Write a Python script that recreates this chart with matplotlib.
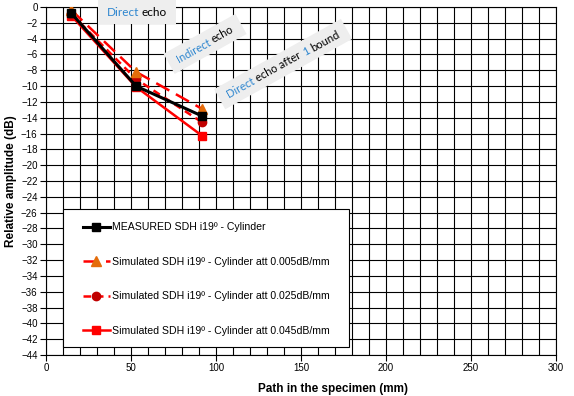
import matplotlib.pyplot as plt
import numpy as np
from matplotlib.patches import Rectangle

# path in the specimen (mm) and relative amplitude (dB)
path_mm = [15, 53, 92]
measured = [-0.8, -10.0, -13.8]
sim_005 = [-0.4, -8.2, -12.9]
sim_025 = [-0.9, -9.1, -14.6]
sim_045 = [-1.1, -10.1, -16.3]

labels = ["MEASURED SDH i19º - Cylinder",
          "Simulated SDH i19º - Cylinder att 0.005dB/mm",
          "Simulated SDH i19º - Cylinder att 0.025dB/mm",
          "Simulated SDH i19º - Cylinder att 0.045dB/mm"]

plt.rcParams['font.family'] = ['Liberation Sans', 'DejaVu Sans']
note_font = ['Lato', 'DejaVu Sans']

fig = plt.figure(figsize=(5.74, 3.96), dpi=100)
ax = fig.add_axes([0.080, 0.1035, 0.8886, 0.8788])

ax.set_xlim(0, 300)
ax.set_ylim(-44, 0)
ax.set_xticks(np.arange(0, 301, 50))
ax.set_yticks(np.arange(-44, 1, 2))
ax.set_xticks(np.arange(0, 301, 10), minor=True)
ax.tick_params(axis='x', which='minor', length=0)
ax.grid(True, which='both', color='black', lw=0.8)
ax.set_axisbelow(True)
ax.tick_params(labelsize=7, length=4, width=0.8, color='black', pad=2)
for s in ax.spines.values():
    s.set_color('black')
    s.set_linewidth(0.8)

ax.set_xlabel("Path in the specimen (mm)", fontsize=8.5, fontweight='bold')
ax.xaxis.set_label_coords(0.563, -0.080)
ax.set_ylabel("Relative amplitude (dB)", fontsize=8.5, fontweight='bold')
ax.yaxis.set_label_coords(-0.057, 0.5)

ax.plot(path_mm, sim_045, color='#ff0000', lw=1.8, marker='s', ms=6,
        mfc='#ff0000', mec='#ff0000', label=labels[3], zorder=3)
ax.plot(path_mm, sim_025, color='#ff0000', lw=1.8, ls=(0, (3, 2)), marker='o', ms=6,
        mfc='#c00000', mec='#c00000', label=labels[2], zorder=4)
ax.plot(path_mm, sim_005, color='#ff0000', lw=1.8, ls=(0, (6, 3)), marker='^', ms=6.5,
        mfc='#e46c0a', mec='#e46c0a', label=labels[1], zorder=4)
ax.plot(path_mm, measured, color='black', lw=2.2, marker='s', ms=5.5,
        label=labels[0], zorder=5)

# legend frame drawn by hand, entries placed inside it
ax.add_patch(Rectangle((0.033, 0.023), 0.561, 0.397, transform=ax.transAxes,
                       fc='white', ec='black', lw=0.8, zorder=6))
h, l = ax.get_legend_handles_labels()
order = [3, 2, 1, 0]
leg = ax.legend([h[i] for i in order], [l[i] for i in order],
                loc='upper left', bbox_to_anchor=(0.0725, 0.381),
                fontsize=7.6, frameon=False, borderpad=0, labelspacing=2.32,
                handlelength=2.57, handletextpad=0.2, numpoints=1, borderaxespad=0)
leg.set_zorder(7)

# annotations: gray box with coloured words
blue = '#2e86cf'
gray = '#eeeeee'


def note(cx, cy, parts, angle, fs=8, padx=9, boxh=23):
    fig.canvas.draw()
    r = fig.canvas.get_renderer()
    widths = []
    for p, c in parts:
        tt = ax.text(0, 0, p + " ", fontsize=fs, family=note_font)
        widths.append(tt.get_window_extent(r).width)
        tt.remove()
    full_t = ax.text(0, 0, " ".join(p for p, c in parts), fontsize=fs, family=note_font)
    total = full_t.get_window_extent(r).width
    full_t.remove()
    a = np.deg2rad(angle)
    cpx, cpy = ax.transAxes.transform((cx, cy))
    bw = total + 2 * padx
    box = Rectangle((cpx - bw / 2, cpy - boxh / 2), bw, boxh, angle=angle,
                    rotation_point='center', transform=None,
                    fc=gray, ec='none', zorder=6, clip_on=False)
    ax.add_patch(box)
    start = -total / 2
    for (p, c), w in zip(parts, widths):
        px = cpx + start * np.cos(a)
        py = cpy + start * np.sin(a)
        ax.text(px, py, p, transform=None, fontsize=fs, rotation=angle,
                rotation_mode='anchor', ha='left', va='center', color=c,
                family=note_font, zorder=7)
        start += w


note(0.178, 0.985, [("Direct", blue), ("echo", 'black')], 0, fs=8.5, padx=8.5, boxh=24)
note(0.312, 0.894, [("Indirect", blue), ("echo", 'black')], 29)
note(0.465, 0.836, [("Direct", blue), ("echo after", 'black'), ("1", blue), ("bound", 'black')], 29)

fig.savefig("out.png", dpi=100)
